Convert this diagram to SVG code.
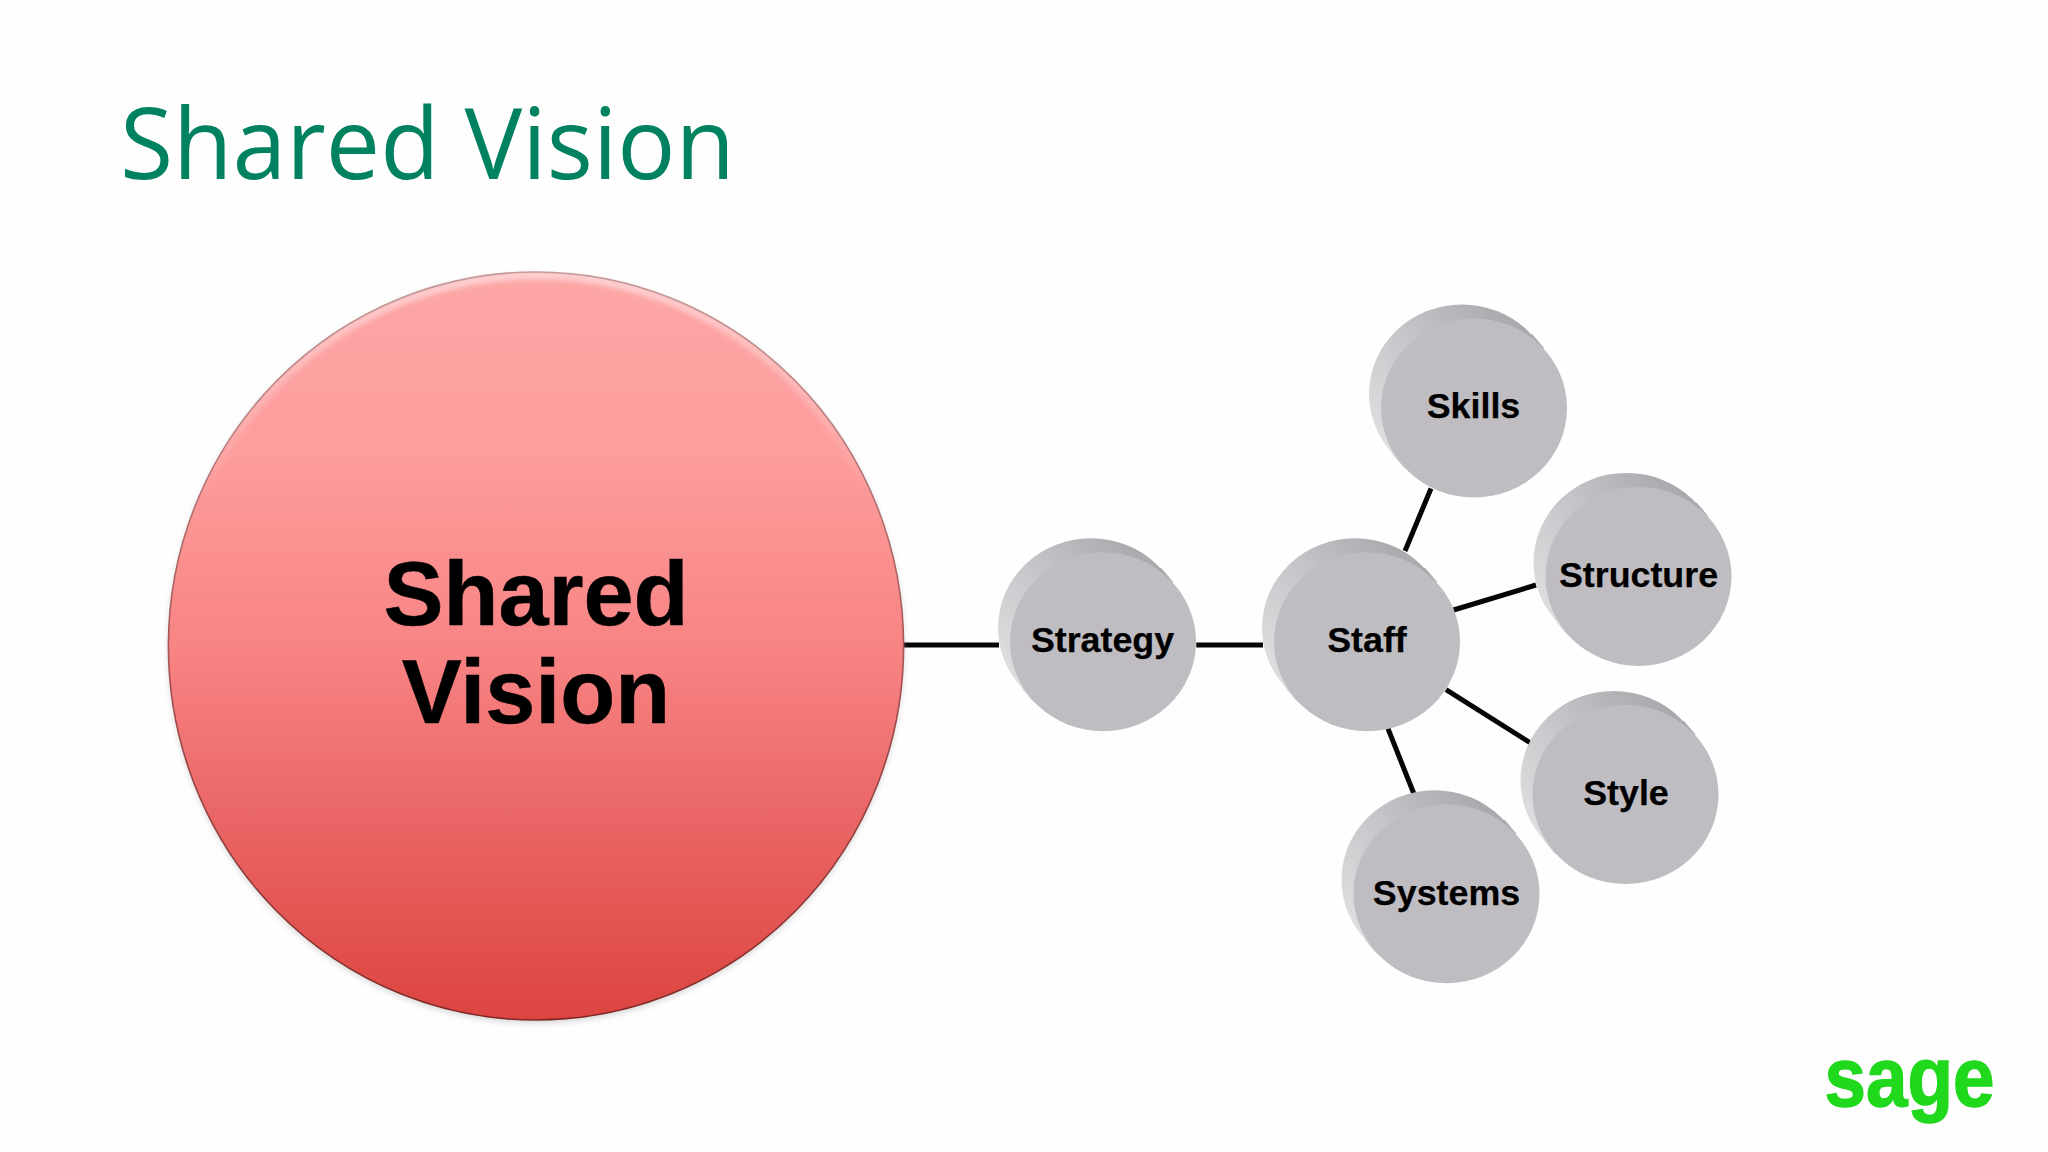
<svg xmlns="http://www.w3.org/2000/svg" width="2048" height="1152" viewBox="0 0 2048 1152">
<style>
.lbl{font-family:"Liberation Sans",Arial,sans-serif;font-weight:700;font-size:35.8px;fill:#000;stroke:#000;stroke-width:.25;text-anchor:middle}
.big{font-size:90px;stroke-width:.5}
.con{stroke:#050505;stroke-width:5;fill:none}
.front{fill:#bfbdc1}
.back{fill:url(#discBack)}
</style>
<defs>
<linearGradient id="mainFill" x1="0" y1="0" x2="0" y2="1">
<stop offset="0" stop-color="#fda6a6"/>
<stop offset="0.25" stop-color="#fd9c9c"/>
<stop offset="0.5" stop-color="#f98484"/>
<stop offset="0.72" stop-color="#ea6767"/>
<stop offset="1" stop-color="#dc4440"/>
</linearGradient>
<linearGradient id="discBack" gradientUnits="userSpaceOnUse" x1="-100" y1="30" x2="40" y2="-100">
<stop offset="0" stop-color="#dfdee0"/>
<stop offset="0.5" stop-color="#c6c4c8"/>
<stop offset="1" stop-color="#a8a6aa"/>
</linearGradient>
<linearGradient id="rim" x1="0" y1="0" x2="0" y2="1">
<stop offset="0" stop-color="#c49a9a"/>
<stop offset="0.5" stop-color="#a85555"/>
<stop offset="1" stop-color="#7f2826"/>
</linearGradient>
<linearGradient id="shine" x1="0" y1="0" x2="0" y2="1">
<stop offset="0" stop-color="#fff" stop-opacity="0.7"/>
<stop offset="0.3" stop-color="#fff" stop-opacity="0"/>
</linearGradient>
<filter id="soft" x="-5%" y="-5%" width="110%" height="110%"><feGaussianBlur stdDeviation="3"/></filter>
<clipPath id="mainClip"><ellipse cx="536" cy="646" rx="367.6" ry="374"/></clipPath>
<g id="disc">
<polygon class="back" points="64,-67 76,-53 -64,67 -76,53"/>
<ellipse class="back" cx="-6" cy="-7" rx="93" ry="89.5"/>
<ellipse class="front" cx="6" cy="7" rx="93" ry="89.5"/>
</g>
</defs>
<rect width="2048" height="1152" fill="#fefefe"/>
<text id="title" x="120" y="179" font-family="'Open Sans',sans-serif" font-weight="500" font-size="98" fill="#00815f" textLength="615" lengthAdjust="spacingAndGlyphs">Shared Vision</text>
<g id="connectors">
<line class="con" x1="903.8" y1="645" x2="999" y2="645"/>
<line class="con" x1="1196.3" y1="645" x2="1263" y2="645"/>
<line class="con" x1="1405" y1="551" x2="1431" y2="488.5"/>
<line class="con" x1="1453.6" y1="610" x2="1536" y2="585"/>
<line class="con" x1="1446" y1="689.6" x2="1530.6" y2="743"/>
<line class="con" x1="1388" y1="728.7" x2="1414" y2="794"/>
</g>
<g id="node-shared-vision">
<ellipse cx="536" cy="649" rx="367.6" ry="374" fill="#888" opacity="0.35" filter="url(#soft)"/>
<ellipse cx="536" cy="646" rx="367.6" ry="374" fill="url(#mainFill)"/>
<ellipse cx="536" cy="646" rx="365" ry="371" fill="none" stroke="url(#shine)" stroke-width="6" clip-path="url(#mainClip)" filter="url(#soft)"/>
<ellipse cx="536" cy="646" rx="367.6" ry="374" fill="none" stroke="url(#rim)" stroke-width="1.6"/>
<text class="lbl big" x="536" y="625">Shared</text>
<text class="lbl big" x="536" y="723">Vision</text>
</g>
<g id="node-strategy"><use href="#disc" x="1097" y="634.7"/><text class="lbl" x="1102.5" y="652">Strategy</text></g>
<g id="node-staff"><use href="#disc" x="1361" y="634.7"/><text class="lbl" x="1367" y="652">Staff</text></g>
<g id="node-skills"><use href="#disc" x="1468" y="401"/><text class="lbl" x="1473.5" y="418">Skills</text></g>
<g id="node-structure"><use href="#disc" x="1632.5" y="569.4"/><text class="lbl" x="1638.5" y="587">Structure</text></g>
<g id="node-style"><use href="#disc" x="1619.5" y="787.5"/><text class="lbl" x="1626" y="805">Style</text></g>
<g id="node-systems"><use href="#disc" x="1440.5" y="886.8"/><text class="lbl" x="1446.5" y="904.5">Systems</text></g>
<text id="logo" x="1824.5" y="1106" font-family="'Liberation Sans',sans-serif" font-weight="700" font-size="84" fill="#20d81c" stroke="#20d81c" stroke-width="1.5" textLength="170" lengthAdjust="spacingAndGlyphs">sage</text>
</svg>
